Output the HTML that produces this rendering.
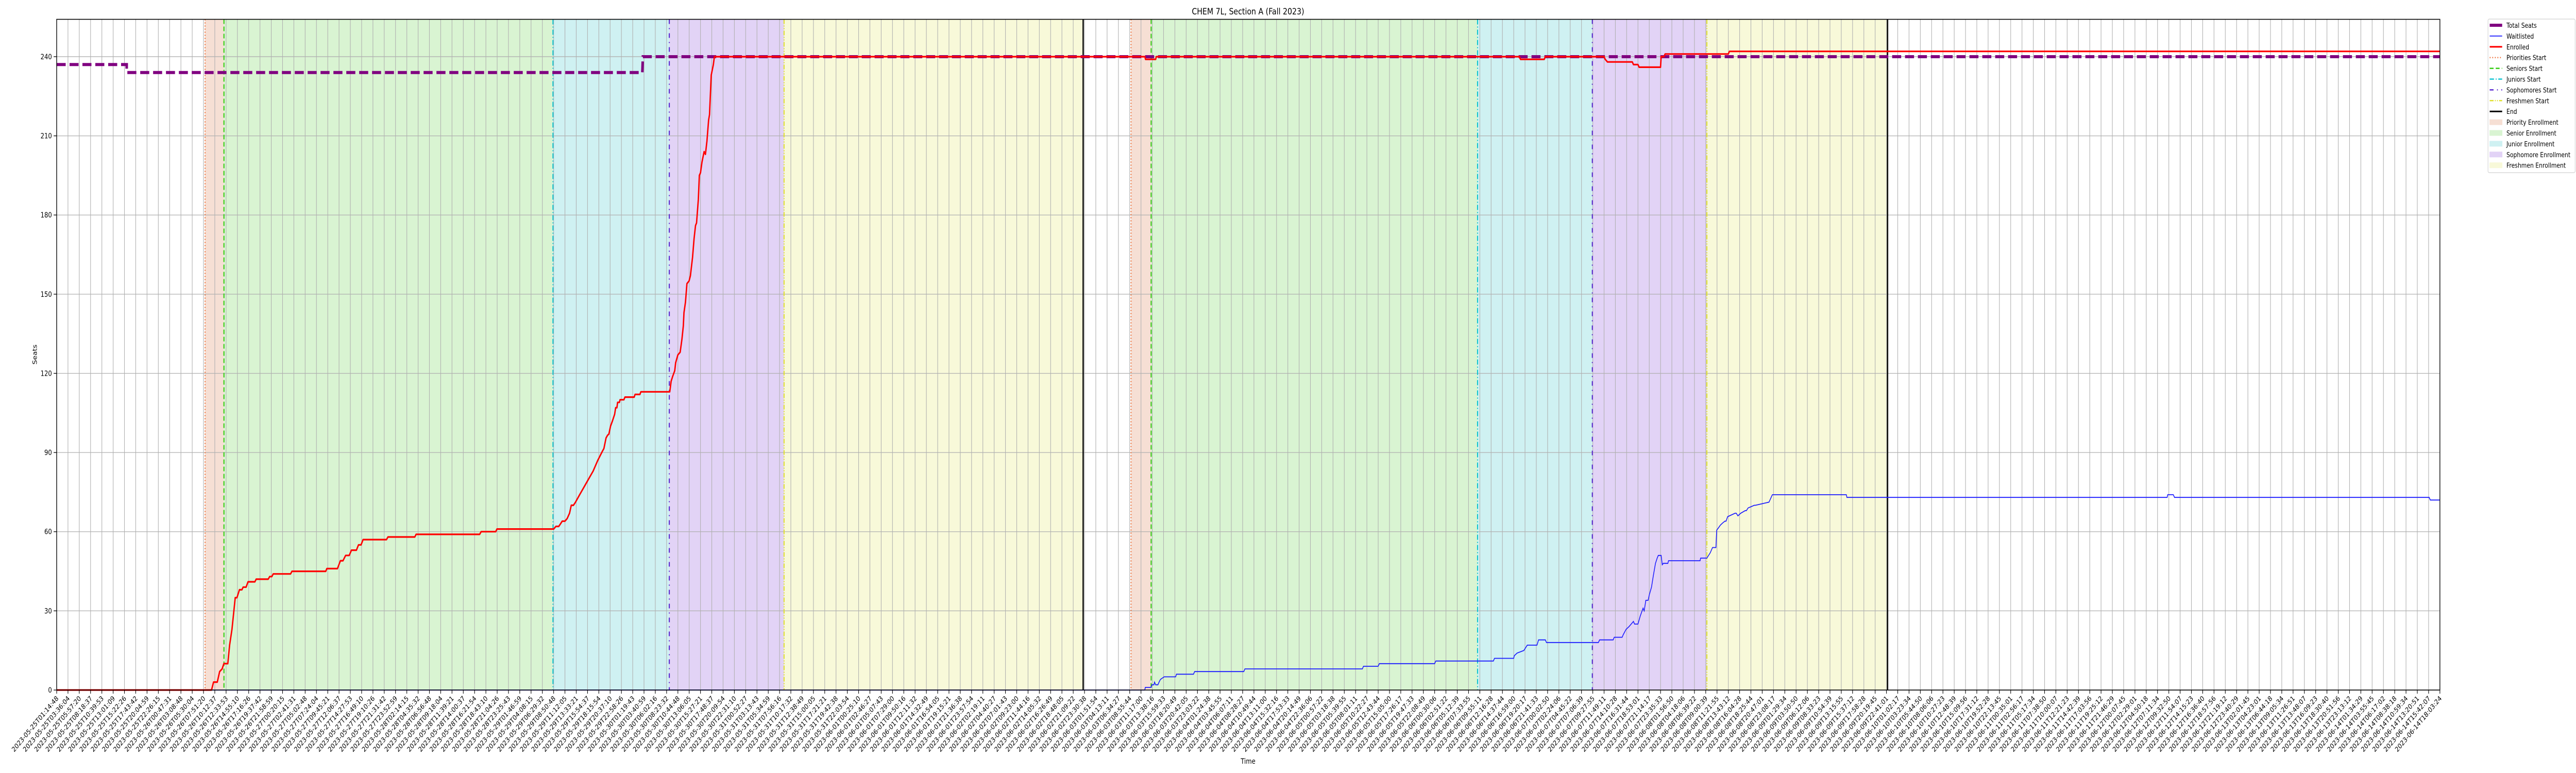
<!DOCTYPE html>
<html>
<head>
<meta charset="utf-8">
<meta name="viewport" content="width=6000, initial-scale=1">
<style>
  html, body { margin: 0; padding: 0; background: #ffffff; width: 100vw; height: 100vh; overflow: hidden; }
  svg { display: block; width: 100vw; height: 100vh; overflow: hidden; font-family: "DejaVu Sans", "Liberation Sans", sans-serif; }
</style>
</head>
<body>
<svg id="chart" viewBox="0 0 6000 1500" preserveAspectRatio="none" xmlns="http://www.w3.org/2000/svg">
  <g id="bands"></g>
  <g id="grid"></g>
  <g id="vlines"></g>
  <g id="series"></g>
  <g id="axes"></g>
  <text x="2907" y="28" font-size="17" text-anchor="middle" fill="#000">CHEM 7L, Section A (Fall 2023)</text>
  <text x="2907" y="1482" font-size="14" text-anchor="middle" fill="#000">Time</text>
  <text x="0" y="0" font-size="14" text-anchor="middle" fill="#000" transform="translate(86,688) rotate(-90)">Seats</text>
  <g id="legend"></g>
</svg>
<script>
// ---- data (x in tick-index units along the time axis, y in seats) ----
const tickStart = "2023-05-25T01:14:48";
const tickEnd = "2023-06-14T18:03:24";
const tickCount = 212;
const yTicks = [0, 30, 60, 90, 120, 150, 180, 210, 240];

const totalSeatsX = [0, 6.2, 6.2, 51.85, 51.9, 211];
const totalSeatsY = [237, 237, 234, 234, 240, 240];

const enrolledX = [0,13.71,13.89,14.22,14.43,14.65,14.8,15.15,15.31,15.52,15.81,15.96,16.18,16.4,16.51,16.77,16.94,17.55,17.66,18.73,18.86,19.05,19.17,20.71,20.83,23.82,23.92,24.86,25.12,25.35,25.58,25.9,26.1,26.54,26.72,26.95,27.13,29.2,29.33,31.71,31.82,37.45,37.58,38.87,38.98,44.0,44.2,44.45,44.61,44.76,45.0,45.2,45.41,45.56,45.75,45.91,46.3,46.7,47.1,47.5,47.9,48.32,48.45,48.64,48.77,48.89,49.04,49.21,49.4,49.49,49.6,49.66,49.82,49.88,50.22,50.31,51.13,51.21,51.64,51.72,54.28,54.4,54.55,54.72,54.8,55.0,55.2,55.36,55.48,55.54,55.67,55.8,55.99,56.11,56.3,56.43,56.56,56.65,56.81,56.9,57.0,57.13,57.32,57.44,57.57,57.72,57.8,57.95,58.14,58.23,96.35,96.4,97.3,97.35,129.5,129.6,131.7,131.8,137.0,137.1,137.3,139.5,139.6,140.0,140.1,142.0,142.05,142.3,142.4,148.0,148.1,211];
const enrolledY = [0,0,3,3,7,8,10,10,17,23,35,35,38,38,39,39,41,41,42,42,43,43,44,44,45,45,46,46,49,49,51,51,53,53,55,55,57,57,58,58,59,59,60,60,61,61,62,62,63,64,64,65,67,70,70,71,74,77,80,83,87,90.5,91.5,95.5,96.5,97,100,102,104.5,107,107,109,109,110,110,111,111,112,112,113,113,117,119,121,124,127,128,133,138,143,147,154,155,157,164,171,176,177,186,195,196,200,204,203,208,216,218,233,237,240,240,239,239,240,240,239,239,240,240,239,238,238,237,237,236,236,240,240,241,241,242,242];

const waitX = [0,96.34,96.38,96.9,96.97,97.15,97.2,97.3,97.5,97.6,97.72,98.05,99.07,99.14,100.65,100.75,105.1,105.2,115.6,115.7,117,117.1,122,122.1,127.2,127.3,129.0,129.05,129.3,129.9,130.2,131.06,131.2,131.8,131.9,136.5,136.6,137.8,137.9,138.6,138.7,138.95,139.2,139.6,139.7,140.0,140.2,140.45,140.55,140.7,140.9,141.0,141.2,141.35,141.55,141.7,141.8,142.05,142.15,142.25,142.65,142.7,145.5,145.55,146.1,146.4,146.6,146.9,146.97,147.1,147.3,147.5,147.7,147.8,147.94,148.6,148.7,148.85,149.1,149.5,149.6,149.75,150.3,150.4,151.6,151.9,158.45,158.5,186.85,186.9,187.4,187.5,210.05,210.15,211];
const waitY = [0,0,1,1,2,2,3,2,2,3,4,5,5,6,6,7,7,8,8,9,9,10,10,11,11,12,12,13,14,15,17,17,19,19,18,18,19,19,20,20,21,23,24,26,25,25,28,31,30,34,34,36,39,43,48,50,51,51,47.5,48,48,49,49,50,50,52,54,54,60.6,61.3,62.5,63.3,64,64,65.7,67,67,66,67,68,68,69,70,70,71.2,74,74,73,73,74,74,73,73,72,72];

const phaseNames = ["priority-1","senior-1","junior-1","sophomore-1","freshman-1","end-1","priority-2","senior-2","junior-2","sophomore-2","freshman-2","end-2"];
const phaseStarts = [13.14, 14.81, 43.94, 54.24, 64.4, 90.88, 95.12, 96.9, 125.8, 135.96, 146.1, 162.1];

// ---- scales ----
const X0 = 132, X1 = 5683, Y0 = 1339, YTOP = 37.5;
const xStep = (X1 - X0) / (tickCount - 1);
const yUnit = 5.121;
function xs(t) { return X0 + t * xStep; }
function ys(v) { return Y0 - v * yUnit; }

const NS = "http://www.w3.org/2000/svg";
function mk(tag, attrs, parent) {
  const e = document.createElementNS(NS, tag);
  for (const k in attrs) e.setAttribute(k, attrs[k]);
  parent.appendChild(e);
  return e;
}

const bandColors = ["#f6dfd4", "#d9f4d2", "#cff1f2", "#e2d3f6", "#f8f9d9"];
const bandLabels = ["priority", "senior", "junior", "sophomore", "freshman"];
const lineStyles = [
  {c:"#ee6e35", w:2.5, d:"2,4"},
  {c:"#33cc11", w:2.5, d:"9,5"},
  {c:"#11c4d2", w:2.5, d:"10,4,2,4"},
  {c:"#5a28d0", w:2.5, d:"9,8,2,8"},
  {c:"#e0e030", w:2.5, d:"9,3,2,3,2,3"}
];

// bands
const bandsG = document.getElementById("bands");
for (let cyc = 0; cyc < 2; cyc++) {
  for (let i = 0; i < 5; i++) {
    const a = phaseStarts[cyc*6 + i], b = phaseStarts[cyc*6 + i + 1];
    const r = mk("rect", {x: xs(a), y: YTOP, width: xs(b) - xs(a), height: Y0 - YTOP, fill: bandColors[i]}, bandsG);
    
    
  }
}

// grid
const gridG = document.getElementById("grid");
for (let i = 0; i < tickCount; i++) {
  const l = mk("line", {x1: xs(i), x2: xs(i), y1: YTOP, y2: Y0, stroke: "#b0b0b0", "stroke-width": 1.3}, gridG);
  
  
}
yTicks.forEach(v => {
  const l = mk("line", {x1: X0, x2: X1, y1: ys(v), y2: ys(v), stroke: "#b0b0b0", "stroke-width": 1.3}, gridG);
  
  
});

// phase lines
const vG = document.getElementById("vlines");
phaseStarts.forEach((t, k) => {
  const idx = k % 6;
  let attrs;
  if (idx === 5) attrs = {stroke: "#000", "stroke-width": 3};
  else attrs = {stroke: lineStyles[idx].c, "stroke-width": lineStyles[idx].w, "stroke-dasharray": lineStyles[idx].d};
  attrs.x1 = xs(t); attrs.x2 = xs(t); attrs.y1 = YTOP; attrs.y2 = Y0;
  const l = mk("line", attrs, vG);
  
  
});

// series
const sG = document.getElementById("series");
function pts(X, Y) { return X.map((x, i) => xs(x).toFixed(1) + "," + ys(Y[i]).toFixed(1)).join(" "); }
const seats = mk("polyline", {points: pts(totalSeatsX, totalSeatsY), fill: "none", stroke: "#800080", "stroke-width": 6, "stroke-dasharray": "21,9"}, sG);


const wait = mk("polyline", {points: pts(waitX, waitY), fill: "none", stroke: "#1a1aff", "stroke-width": 1.8}, sG);


const enr = mk("polyline", {points: pts(enrolledX, enrolledY), fill: "none", stroke: "#ff0000", "stroke-width": 3.2, "stroke-linejoin": "round"}, sG);



// axes
const axG = document.getElementById("axes");
const frame = mk("rect", {x: X0, y: YTOP, width: X1 - X0, height: Y0 - YTOP, fill: "none", stroke: "#000", "stroke-width": 1.6}, axG);


yTicks.forEach(v => {
  const t = mk("line", {x1: X0 - 7, x2: X0, y1: ys(v), y2: ys(v), stroke: "#000", "stroke-width": 1.3}, axG);
  
  
  const lb = mk("text", {x: X0 - 11, y: ys(v) + 5, "font-size": 14, "text-anchor": "end", fill: "#000"}, axG);
  lb.textContent = String(v);
  
  
});
const tS = Date.parse(tickStart + "Z"), tE = Date.parse(tickEnd + "Z");
for (let i = 0; i < tickCount; i++) {
  const x = xs(i);
  const tk = mk("line", {x1: x, x2: x, y1: Y0, y2: Y0 + 7, stroke: "#000", "stroke-width": 1.3}, axG);
  
  
  const d = new Date(tS + (tE - tS) * i / (tickCount - 1));
  const label = d.toISOString().slice(0, 19);
  const lb = mk("text", {x: 0, y: 0, "font-size": 13.5, "text-anchor": "end", fill: "#000", transform: "translate(" + (x + 5) + "," + (Y0 + 17) + ") rotate(-45)"}, axG);
  lb.textContent = label;
  
  
}

// legend
const lg = document.getElementById("legend");
const box = mk("rect", {x: 5795, y: 37, width: 203, height: 298, rx: 3, fill: "#fff", stroke: "#d0d0d0", "stroke-width": 1.2}, lg);


const legendItems = [
  {n:"Total Seats", t:"line", c:"#800080", w:6, d:""},
  {n:"Waitlisted", t:"line", c:"#1a1aff", w:1.8, d:""},
  {n:"Enrolled", t:"line", c:"#ff0000", w:3.2, d:""},
  {n:"Priorities Start", t:"line", c:"#ee6e35", w:2.5, d:"2,4"},
  {n:"Seniors Start", t:"line", c:"#33cc11", w:2.5, d:"9,5"},
  {n:"Juniors Start", t:"line", c:"#11c4d2", w:2.5, d:"10,4,2,4"},
  {n:"Sophomores Start", t:"line", c:"#5a28d0", w:2.5, d:"9,8,2,8"},
  {n:"Freshmen Start", t:"line", c:"#e0e030", w:2.5, d:"9,3,2,3,2,3"},
  {n:"End", t:"line", c:"#000", w:3, d:""},
  {n:"Priority Enrollment", t:"patch", c:"#f6dfd4"},
  {n:"Senior Enrollment", t:"patch", c:"#d9f4d2"},
  {n:"Junior Enrollment", t:"patch", c:"#cff1f2"},
  {n:"Sophomore Enrollment", t:"patch", c:"#e2d3f6"},
  {n:"Freshmen Enrollment", t:"patch", c:"#f8f9d9"}
];
legendItems.forEach((it, i) => {
  const cy = 49 + i * 20.9;
  const g = mk("g", {}, lg);
  
  
  if (it.t === "line") {
    const a = {x1: 5799, x2: 5828, y1: cy, y2: cy, stroke: it.c, "stroke-width": it.w};
    if (it.d) a["stroke-dasharray"] = it.d;
    mk("line", a, g);
  } else {
    mk("rect", {x: 5799, y: cy - 5, width: 29, height: 10, fill: it.c, stroke: it.c}, g);
  }
  const tx = mk("text", {x: 5838, y: cy + 5, "font-size": 13, fill: "#000"}, g);
  tx.textContent = it.n;
});
</script>
</body>
</html>
